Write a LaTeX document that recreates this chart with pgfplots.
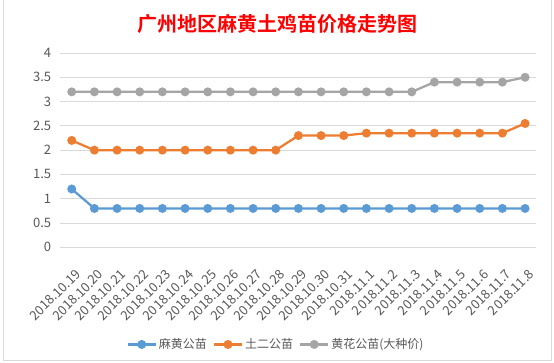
\documentclass[border=0pt]{standalone}
\usepackage{fontspec}
\setmainfont{Noto Sans CJK SC}
\newfontfamily\titlefont{Noto Sans CJK SC Bold}
\usepackage{pgfplots}
\pgfplotsset{compat=1.18}
\definecolor{cblue}{HTML}{5B9BD5}
\definecolor{corange}{HTML}{ED7D31}
\definecolor{cgray}{HTML}{A5A5A5}
\definecolor{gridc}{HTML}{D9D9D9}
\definecolor{labc}{HTML}{595959}
\begin{document}
\begin{tikzpicture}
\useasboundingbox (0,0) rectangle (554bp,363bp);
\fill[white] (0,0) rectangle (554bp,363bp);
\draw[gridc, line width=0.75bp] (3bp,3bp) rectangle (551bp,364bp);
\node[text=red, font=\titlefont\fontsize{20bp}{24bp}\selectfont] at (277bp,339bp) {广州地区麻黄土鸡苗价格走势图};
\begin{axis}[
  at={(60.4bp,115.7bp)}, anchor=south west,
  scale only axis, width=476bp, height=194.3bp,
  xmin=-0.5, xmax=20.5, ymin=0, ymax=4,
  ytick={0,0.5,1,1.5,2,2.5,3,3.5,4},
  xtick={0,...,20},
  xticklabels={2018.10.19,2018.10.20,2018.10.21,2018.10.22,2018.10.23,2018.10.24,2018.10.25,2018.10.26,2018.10.27,2018.10.28,2018.10.29,2018.10.30,2018.10.31,2018.11.1,2018.11.2,2018.11.3,2018.11.4,2018.11.5,2018.11.6,2018.11.7,2018.11.8},
  ymajorgrids, grid style={gridc, line width=0.75bp},
  axis line style={draw=none},
  major tick length=0pt,
  /pgf/number format/assume math mode=true,
  tick label style={text=labc, font=\fontsize{13bp}{15bp}\selectfont},
  yticklabel style={anchor=east, inner sep=0pt, xshift=-9bp},
  xticklabel style={inner sep=0pt, xshift=3bp, yshift=-21bp, rotate=45, anchor=north east},
  legend style={at={(0.453,-0.500)}, anchor=center, draw=none, fill=none,
    font=\fontsize{12bp}{14bp}\selectfont, text=labc,
    /tikz/every even column/.append style={column sep=4bp}},
  legend columns=3,
  legend image code/.code={\draw[mark repeat=2, mark phase=2, #1] plot coordinates {(0bp,0bp)(14bp,0bp)(28bp,0bp)};},
  every axis plot/.append style={line width=2.25bp, mark=*, mark size=3.3bp},
]
\addplot[cblue, mark options={fill=cblue, draw=cblue}] coordinates {
(0,1.2)(1,0.8)(2,0.8)(3,0.8)(4,0.8)(5,0.8)(6,0.8)(7,0.8)(8,0.8)(9,0.8)(10,0.8)(11,0.8)(12,0.8)(13,0.8)(14,0.8)(15,0.8)(16,0.8)(17,0.8)(18,0.8)(19,0.8)(20,0.8)};
\addlegendentry{麻黄公苗}
\addplot[corange, mark options={fill=corange, draw=corange}] coordinates {
(0,2.2)(1,2.0)(2,2.0)(3,2.0)(4,2.0)(5,2.0)(6,2.0)(7,2.0)(8,2.0)(9,2.0)(10,2.3)(11,2.3)(12,2.3)(13,2.35)(14,2.35)(15,2.35)(16,2.35)(17,2.35)(18,2.35)(19,2.35)(20,2.55)};
\addlegendentry{土二公苗}
\addplot[cgray, mark options={fill=cgray, draw=cgray}] coordinates {
(0,3.2)(1,3.2)(2,3.2)(3,3.2)(4,3.2)(5,3.2)(6,3.2)(7,3.2)(8,3.2)(9,3.2)(10,3.2)(11,3.2)(12,3.2)(13,3.2)(14,3.2)(15,3.2)(16,3.4)(17,3.4)(18,3.4)(19,3.4)(20,3.5)};
\addlegendentry{黄花公苗(大种价)}
\end{axis}
\end{tikzpicture}
\end{document}
